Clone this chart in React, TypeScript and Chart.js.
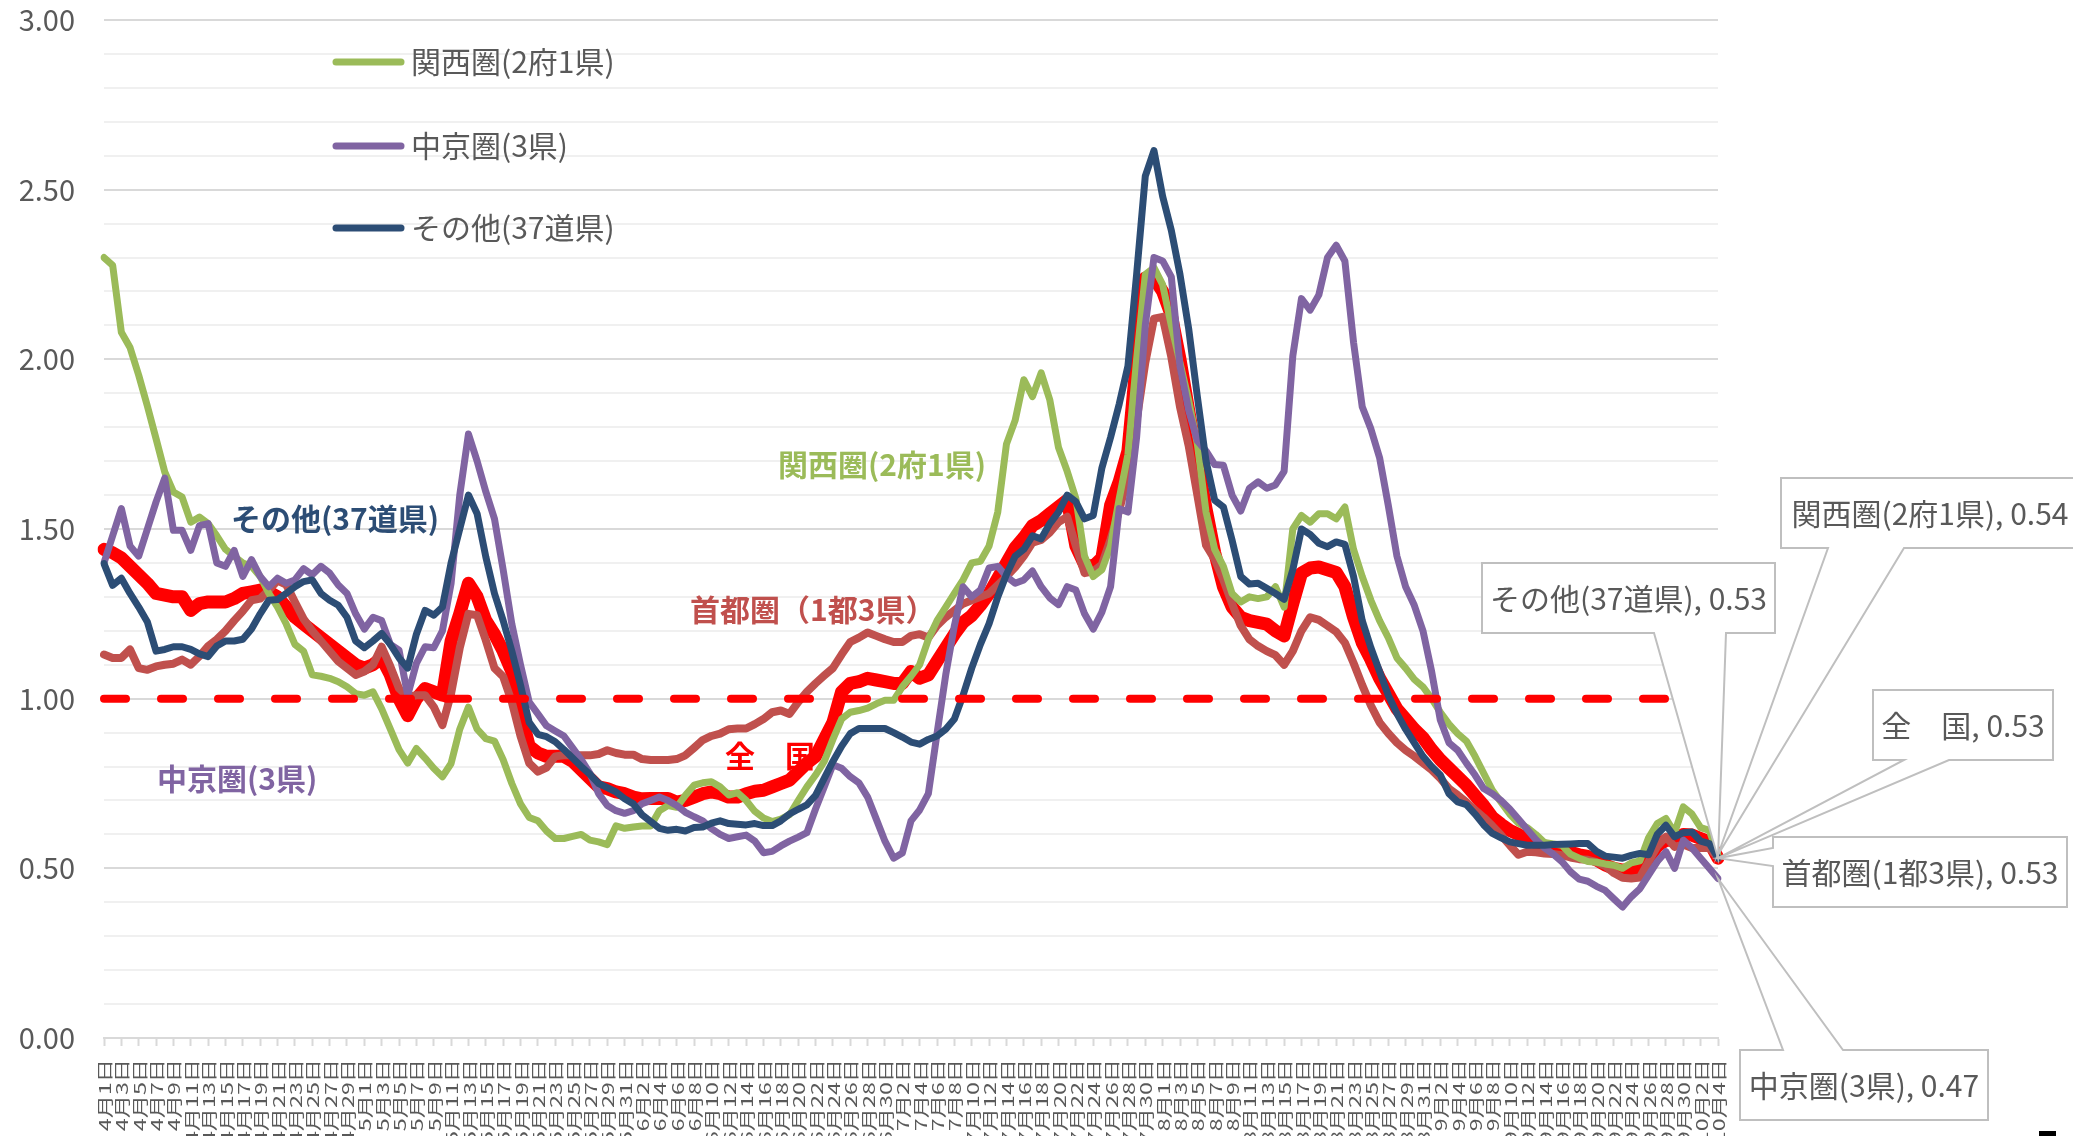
import React, { useEffect, useRef } from 'react';
import { Chart, registerables } from 'chart.js';

Chart.register(...registerables);

const FONT = '"Noto Sans CJK JP", "Noto Sans", sans-serif';

// ---- categories: daily, 4/1 .. 10/4 ----
const MONTHS = [4, 5, 6, 7, 8, 9, 10];
const MONTH_DAYS = [30, 31, 30, 31, 31, 30, 4];
const DATES: string[] = [];
MONTHS.forEach((m, i) => {
  for (let d = 1; d <= MONTH_DAYS[i]; d++) DATES.push(`${m}月${d}日`);
});

// ---- series values ----
const ZENKOKU = [
  1.44, 1.43, 1.415, 1.39, 1.365, 1.34, 1.31, 1.305, 1.30, 1.30, 1.26, 1.28, 1.285, 1.285, 1.285, 1.295, 1.31, 1.315, 1.32, 1.315, 1.30, 1.27, 1.24, 1.22, 1.20, 1.18, 1.16, 1.14, 1.12, 1.10,
  1.09, 1.10, 1.12, 1.07, 1.00, 0.95, 1.00, 1.03, 1.02, 1.01, 1.17, 1.25, 1.34, 1.30, 1.23, 1.19, 1.14, 1.08, 0.96, 0.86, 0.84, 0.83, 0.83, 0.83, 0.815, 0.79, 0.765, 0.74, 0.735, 0.725, 0.72,
  0.71, 0.705, 0.706, 0.706, 0.706, 0.695, 0.70, 0.71, 0.72, 0.725, 0.72, 0.71, 0.71, 0.72, 0.727, 0.73, 0.74, 0.75, 0.76, 0.785, 0.81, 0.83, 0.88, 0.93, 1.02, 1.045, 1.05, 1.06, 1.055, 1.05,
  1.045, 1.045, 1.08, 1.06, 1.07, 1.11, 1.15, 1.19, 1.225, 1.245, 1.275, 1.31, 1.355, 1.40, 1.445, 1.475, 1.51, 1.525, 1.545, 1.565, 1.585, 1.45, 1.395, 1.39, 1.415, 1.57, 1.64, 1.73, 2.00, 2.24, 2.24,
  2.20, 2.13, 2.00, 1.85, 1.70, 1.56, 1.43, 1.33, 1.27, 1.24, 1.23, 1.225, 1.22, 1.20, 1.185, 1.28, 1.37, 1.385, 1.388, 1.38, 1.372, 1.33, 1.24, 1.165, 1.115, 1.06, 1.015, 0.97, 0.94, 0.91, 0.885,
  0.85, 0.82, 0.795, 0.77, 0.745, 0.715, 0.685, 0.65, 0.63, 0.612, 0.60, 0.586, 0.574, 0.566, 0.558, 0.553, 0.547, 0.54, 0.535, 0.525, 0.51, 0.50, 0.495, 0.495, 0.495, 0.53, 0.565, 0.583, 0.583, 0.60,
  0.598, 0.588, 0.578, 0.53,
];

const SHUTOKEN = [
  1.13, 1.12, 1.12, 1.145, 1.09, 1.085, 1.095, 1.10, 1.103, 1.115, 1.10, 1.125, 1.155, 1.175, 1.20, 1.23, 1.258, 1.29, 1.295, 1.32, 1.348, 1.336, 1.285, 1.235, 1.20, 1.17, 1.14, 1.11, 1.09, 1.07,
  1.08, 1.10, 1.153, 1.095, 1.03, 1.005, 1.01, 1.01, 0.976, 0.922, 1.015, 1.15, 1.25, 1.246, 1.172, 1.09, 1.065, 0.99, 0.89, 0.81, 0.785, 0.797, 0.83, 0.833, 0.833, 0.833, 0.833, 0.837, 0.848, 0.84, 0.835,
  0.835, 0.822, 0.819, 0.819, 0.819, 0.822, 0.833, 0.855, 0.878, 0.89, 0.897, 0.91, 0.912, 0.912, 0.925, 0.94, 0.96, 0.965, 0.955, 0.99, 1.02, 1.045, 1.068, 1.09, 1.13, 1.167, 1.18, 1.195, 1.185, 1.175,
  1.167, 1.167, 1.185, 1.19, 1.18, 1.215, 1.24, 1.26, 1.28, 1.29, 1.30, 1.31, 1.335, 1.36, 1.387, 1.42, 1.46, 1.468, 1.49, 1.52, 1.536, 1.45, 1.37, 1.375, 1.395, 1.47, 1.555, 1.66, 1.82, 1.99, 2.12,
  2.125, 2.007, 1.86, 1.745, 1.60, 1.452, 1.41, 1.35, 1.28, 1.215, 1.175, 1.155, 1.14, 1.128, 1.10, 1.14, 1.20, 1.24, 1.232, 1.215, 1.197, 1.165, 1.105, 1.04, 0.98, 0.93, 0.898, 0.87, 0.848, 0.83, 0.81,
  0.79, 0.765, 0.735, 0.716, 0.695, 0.672, 0.65, 0.625, 0.598, 0.568, 0.54, 0.549, 0.547, 0.544, 0.542, 0.539, 0.532, 0.527, 0.525, 0.518, 0.507, 0.486, 0.472, 0.47, 0.473, 0.52, 0.565, 0.593, 0.563, 0.57,
  0.56, 0.56, 0.56, 0.53,
];

const KANSAI = [
  2.30, 2.277, 2.08, 2.035, 1.953, 1.862, 1.766, 1.668, 1.609, 1.594, 1.52, 1.535, 1.516, 1.48, 1.44, 1.42, 1.40, 1.39, 1.36, 1.31, 1.27, 1.22, 1.16, 1.14, 1.07, 1.066, 1.06, 1.05, 1.035, 1.015,
  1.01, 1.02, 0.97, 0.91, 0.85, 0.81, 0.853, 0.825, 0.795, 0.77, 0.809, 0.91, 0.975, 0.91, 0.882, 0.875, 0.82, 0.75, 0.69, 0.65, 0.64, 0.61, 0.588, 0.588, 0.594, 0.60, 0.583, 0.578, 0.57, 0.625, 0.618,
  0.622, 0.625, 0.625, 0.67, 0.685, 0.68, 0.715, 0.745, 0.752, 0.755, 0.74, 0.716, 0.723, 0.70, 0.668, 0.648, 0.638, 0.645, 0.658, 0.70, 0.74, 0.775, 0.815, 0.88, 0.94, 0.96, 0.965, 0.972, 0.985, 0.995,
  0.995, 1.035, 1.066, 1.10, 1.175, 1.23, 1.27, 1.31, 1.35, 1.40, 1.405, 1.45, 1.55, 1.75, 1.82, 1.94, 1.89, 1.96, 1.88, 1.74, 1.67, 1.59, 1.42, 1.36, 1.38, 1.45, 1.59, 1.72, 2.00, 2.25, 2.27,
  2.22, 2.10, 1.99, 1.88, 1.75, 1.55, 1.44, 1.39, 1.31, 1.285, 1.30, 1.295, 1.30, 1.33, 1.27, 1.50, 1.54, 1.52, 1.545, 1.545, 1.53, 1.565, 1.44, 1.36, 1.29, 1.23, 1.18, 1.12, 1.09, 1.057, 1.035,
  1.00, 0.96, 0.925, 0.897, 0.875, 0.83, 0.78, 0.73, 0.695, 0.66, 0.633, 0.62, 0.60, 0.576, 0.572, 0.568, 0.542, 0.53, 0.52, 0.518, 0.513, 0.509, 0.50, 0.516, 0.522, 0.59, 0.632, 0.647, 0.605, 0.681,
  0.66, 0.62, 0.612, 0.54,
];

const CHUKYO = [
  1.40, 1.48, 1.56, 1.45, 1.42, 1.50, 1.58, 1.65, 1.496, 1.496, 1.437, 1.51, 1.516, 1.40, 1.39, 1.437, 1.36, 1.41, 1.36, 1.33, 1.355, 1.34, 1.35, 1.383, 1.365, 1.39, 1.37, 1.335, 1.31, 1.25,
  1.205, 1.24, 1.23, 1.16, 1.143, 1.01, 1.104, 1.153, 1.15, 1.20, 1.34, 1.60, 1.78, 1.70, 1.61, 1.53, 1.38, 1.22, 1.10, 0.99, 0.955, 0.92, 0.905, 0.89, 0.855, 0.82, 0.78, 0.72, 0.685, 0.67, 0.662,
  0.67, 0.69, 0.70, 0.71, 0.70, 0.685, 0.665, 0.652, 0.64, 0.617, 0.60, 0.588, 0.593, 0.598, 0.58, 0.546, 0.55, 0.566, 0.58, 0.592, 0.605, 0.675, 0.74, 0.805, 0.795, 0.77, 0.752, 0.71, 0.645, 0.58,
  0.53, 0.545, 0.64, 0.672, 0.72, 0.897, 1.07, 1.215, 1.33, 1.30, 1.32, 1.385, 1.39, 1.36, 1.34, 1.35, 1.376, 1.33, 1.297, 1.277, 1.33, 1.32, 1.25, 1.205, 1.255, 1.33, 1.56, 1.55, 1.77, 2.10, 2.30,
  2.29, 2.243, 1.98, 1.85, 1.76, 1.73, 1.69, 1.688, 1.60, 1.553, 1.62, 1.639, 1.62, 1.63, 1.67, 2.01, 2.179, 2.145, 2.19, 2.30, 2.336, 2.29, 2.05, 1.86, 1.795, 1.71, 1.57, 1.42, 1.33, 1.275, 1.20,
  1.08, 0.937, 0.87, 0.848, 0.81, 0.775, 0.735, 0.72, 0.70, 0.675, 0.645, 0.615, 0.585, 0.56, 0.542, 0.52, 0.49, 0.468, 0.462, 0.447, 0.435, 0.41, 0.386, 0.416, 0.44, 0.48, 0.52, 0.549, 0.50, 0.583,
  0.56, 0.53, 0.50, 0.47,
];

const SONOTA = [
  1.398, 1.334, 1.355, 1.31, 1.27, 1.226, 1.14, 1.145, 1.153, 1.153, 1.145, 1.132, 1.124, 1.155, 1.17, 1.17, 1.175, 1.205, 1.25, 1.29, 1.292, 1.31, 1.33, 1.345, 1.35, 1.31, 1.29, 1.275, 1.24, 1.17,
  1.15, 1.17, 1.192, 1.16, 1.12, 1.09, 1.19, 1.26, 1.246, 1.27, 1.40, 1.50, 1.60, 1.545, 1.418, 1.31, 1.23, 1.14, 1.04, 0.93, 0.895, 0.888, 0.873, 0.85, 0.825, 0.80, 0.777, 0.75, 0.738, 0.725, 0.705,
  0.69, 0.658, 0.638, 0.618, 0.612, 0.615, 0.61, 0.62, 0.622, 0.633, 0.64, 0.632, 0.63, 0.628, 0.632, 0.626, 0.626, 0.64, 0.66, 0.674, 0.687, 0.715, 0.765, 0.815, 0.86, 0.897, 0.912, 0.912, 0.912, 0.912,
  0.90, 0.887, 0.872, 0.866, 0.88, 0.89, 0.91, 0.94, 1.01, 1.09, 1.16, 1.221, 1.30, 1.366, 1.42, 1.44, 1.48, 1.471, 1.516, 1.55, 1.60, 1.58, 1.53, 1.54, 1.68, 1.77, 1.869, 1.98, 2.25, 2.54, 2.615,
  2.48, 2.38, 2.25, 2.09, 1.89, 1.70, 1.585, 1.565, 1.467, 1.36, 1.338, 1.34, 1.325, 1.31, 1.293, 1.38, 1.50, 1.484, 1.458, 1.448, 1.462, 1.455, 1.36, 1.23, 1.15, 1.08, 1.01, 0.956, 0.91, 0.87, 0.83,
  0.80, 0.775, 0.72, 0.696, 0.688, 0.66, 0.628, 0.603, 0.59, 0.578, 0.573, 0.568, 0.568, 0.568, 0.57, 0.571, 0.572, 0.573, 0.573, 0.55, 0.536, 0.533, 0.53, 0.538, 0.544, 0.54, 0.60, 0.627, 0.593, 0.605,
  0.607, 0.58, 0.573, 0.53,
];

const REFERENCE_LEVEL = 1.0;

// ---- y tick labels ----
const Y_MIN = 0;
const Y_MAX = 3;
const Y_STEP = 0.1;
const Y_LABEL_STEP = 0.5;

// ---- series names ----
const NAMES = {
  kansai: '関西圏(2府1県)',
  chukyo: '中京圏(3県)',
  sonota: 'その他(37道県)',
  zenkoku: '全　国',
  shutoken: '首都圏(1都3県)',
};

const COLORS = {
  kansai: '#9BBB59',
  chukyo: '#8064A2',
  sonota: '#2C4D75',
  zenkoku: '#FF0000',
  shutoken: '#C0504D',
  text: '#595959',
};

function isMajor(v: number) {
  const r = v / Y_LABEL_STEP;
  return Math.abs(r - Math.round(r)) < 1e-6;
}

// layout of overlay items (positions only)
const LEGEND = [
  { key: 'kansai', y: 62 },
  { key: 'chukyo', y: 146 },
  { key: 'sonota', y: 228 },
];

const INLINE = [
  { text: 'その他(37道県)', x: 231, y: 519, color: COLORS.sonota },
  { text: '中京圏(3県)', x: 157, y: 779, color: COLORS.chukyo },
  { text: '関西圏(2府1県)', x: 778, y: 465, color: COLORS.kansai },
  { text: '首都圏（1都3県）', x: 690, y: 610, color: COLORS.shutoken },
  { text: '全　国', x: 725, y: 756, color: COLORS.zenkoku },
];

// callouts: box [x0,y0,x1,y1], wedge side and base points
const CALLOUTS = [
  { key: 'shutoken', ds: 4, box: [1773, 837, 2067, 907], side: 'left', base: [848, 866] },
  { key: 'chukyo', ds: 2, box: [1740, 1050, 1988, 1120], side: 'top', base: [1783, 1843] },
  { key: 'zenkoku', ds: 5, box: [1873, 690, 2053, 760], side: 'bottom', base: [1904, 1949] },
  { key: 'sonota', ds: 1, box: [1482, 563, 1775, 633], side: 'bottom', base: [1654, 1726] },
  { key: 'kansai', ds: 3, box: [1781, 478, 2079, 548], side: 'bottom', base: [1828, 1904] },
];

const X_LABEL_FONT = 16;
const X_LABEL_STRETCH = 1.45;

const overlayPlugin = {
  id: 'overlay',
  beforeDatasetsDraw(chart: any) {
    const ctx = chart.ctx;
    ctx.save();
    ctx.font = `bold 30px ${FONT}`;
    ctx.textBaseline = 'middle';
    ctx.textAlign = 'left';
    INLINE.forEach((t) => {
      ctx.fillStyle = t.color;
      ctx.fillText(t.text, t.x, t.y);
    });
    // legend
    LEGEND.forEach((l) => {
      ctx.strokeStyle = (COLORS as any)[l.key];
      ctx.lineWidth = 7;
      ctx.lineCap = 'round';
      ctx.beginPath();
      ctx.moveTo(336, l.y);
      ctx.lineTo(401, l.y);
      ctx.stroke();
      ctx.fillStyle = COLORS.text;
      ctx.font = `30px ${FONT}`;
      ctx.fillText((NAMES as any)[l.key], 411, l.y);
    });
    ctx.restore();
  },
  afterDatasetsDraw(chart: any) {
    const ctx = chart.ctx;
    const xs = chart.scales.x;
    const ys = chart.scales.y;
    ctx.save();
    CALLOUTS.forEach((c) => {
      const data = chart.data.datasets[c.ds].data as number[];
      const last = data.length - 1;
      const tx = xs.getPixelForValue(last);
      const ty = ys.getPixelForValue(data[last]);
      const [x0, y0, x1, y1] = c.box;
      ctx.beginPath();
      if (c.side === 'bottom') {
        ctx.moveTo(x0, y0);
        ctx.lineTo(x1, y0);
        ctx.lineTo(x1, y1);
        ctx.lineTo(c.base[1], y1);
        ctx.lineTo(tx, ty);
        ctx.lineTo(c.base[0], y1);
        ctx.lineTo(x0, y1);
      } else if (c.side === 'top') {
        ctx.moveTo(x0, y0);
        ctx.lineTo(c.base[0], y0);
        ctx.lineTo(tx, ty);
        ctx.lineTo(c.base[1], y0);
        ctx.lineTo(x1, y0);
        ctx.lineTo(x1, y1);
        ctx.lineTo(x0, y1);
      } else {
        ctx.moveTo(x0, y0);
        ctx.lineTo(x1, y0);
        ctx.lineTo(x1, y1);
        ctx.lineTo(x0, y1);
        ctx.lineTo(x0, c.base[1]);
        ctx.lineTo(tx, ty);
        ctx.lineTo(x0, c.base[0]);
      }
      ctx.closePath();
      ctx.fillStyle = '#FFFFFF';
      ctx.fill();
      ctx.strokeStyle = '#BFBFBF';
      ctx.lineWidth = 2;
      ctx.lineJoin = 'miter';
      ctx.stroke();
      ctx.font = `30px ${FONT}`;
      ctx.fillStyle = COLORS.text;
      ctx.textBaseline = 'middle';
      ctx.textAlign = 'center';
      const label = `${(NAMES as any)[c.key]}, ${data[last].toFixed(2)}`;
      ctx.fillText(label, (x0 + x1) / 2, (y0 + y1) / 2 + 1);
    });
    ctx.fillStyle = '#000000';
    ctx.fillRect(2039, 1131, 17, 5);
    ctx.restore();
  },
  afterDraw(chart: any) {
    // rotated category labels (every other day), slightly stretched along the text
    const ctx = chart.ctx;
    const xs = chart.scales.x;
    const top = chart.chartArea.bottom + 21;
    ctx.save();
    ctx.font = `${X_LABEL_FONT}px ${FONT}`;
    ctx.fillStyle = COLORS.text;
    ctx.textAlign = 'right';
    ctx.textBaseline = 'middle';
    DATES.forEach((d, i) => {
      if (i % 2 !== 0) return;
      const x = xs.getPixelForValue(i);
      ctx.save();
      ctx.translate(x + 1, top);
      ctx.rotate(-Math.PI / 2);
      ctx.scale(X_LABEL_STRETCH, 1);
      ctx.fillText(d, 0, 0);
      ctx.restore();
    });
    ctx.restore();
  },
};

function line(label: string, data: number[], color: string, width: number, extra: any = {}) {
  return {
    label,
    data,
    borderColor: color,
    backgroundColor: color,
    borderWidth: width,
    pointRadius: 0,
    pointHoverRadius: 0,
    tension: 0,
    fill: false,
    borderJoinStyle: 'round',
    borderCapStyle: 'round',
    ...extra,
  };
}

export default function App() {
  const ref = useRef<HTMLCanvasElement>(null);
  useEffect(() => {
    const canvas = ref.current;
    if (!canvas) return;
    const refLine = DATES.map(() => REFERENCE_LEVEL);
    const chart = new Chart(canvas, {
      type: 'line',
      data: {
        labels: DATES,
        datasets: [
          line('基準', refLine, '#FF0000', 8, { borderDash: [22, 35], borderCapStyle: 'round' }),
          line(NAMES.sonota, SONOTA, COLORS.sonota, 7),
          line(NAMES.chukyo, CHUKYO, COLORS.chukyo, 7),
          line(NAMES.kansai, KANSAI, COLORS.kansai, 7),
          line(NAMES.shutoken, SHUTOKEN, COLORS.shutoken, 8),
          line(NAMES.zenkoku, ZENKOKU, COLORS.zenkoku, 13),
        ] as any,
      },
      options: {
        responsive: false,
        animation: false,
        devicePixelRatio: 1,
        layout: { padding: { top: 20, right: 355, left: 0, bottom: 0 } },
        plugins: { legend: { display: false }, tooltip: { enabled: false } },
        events: [],
        scales: {
          x: {
            type: 'category',
            offset: false,
            grid: {
              drawOnChartArea: false,
              drawTicks: true,
              tickLength: 8,
              tickWidth: 2,
              tickColor: (c: any) => (c.index % 2 === 0 ? '#D9D9D9' : 'rgba(0,0,0,0)'),
            },
            border: { display: true, color: '#D9D9D9', width: 2 },
            ticks: {
              display: false,
              autoSkip: false,
            },
            afterFit: (s: any) => {
              s.height = 98;
            },
          },
          y: {
            min: Y_MIN,
            max: Y_MAX,
            border: { display: false },
            grid: {
              drawTicks: false,
              lineWidth: 2,
              color: (c: any) => (isMajor(c.tick.value) ? '#D9D9D9' : '#F0F0F0'),
            },
            ticks: {
              stepSize: Y_STEP,
              autoSkip: false,
              padding: 29,
              color: COLORS.text,
              font: { family: FONT, size: 29 },
              callback: (v: any) => (isMajor(Number(v)) ? Number(v).toFixed(2) : ''),
            },
            afterFit: (s: any) => {
              s.width = 104;
              s.paddingTop = 0;
              s.paddingBottom = 0;
            },
          },
        },
      } as any,
      plugins: [overlayPlugin],
    });
    return () => chart.destroy();
  }, []);
  return (
    <div style={{ position: 'fixed', left: 0, top: 0, width: 2073, height: 1136, background: '#fff', overflow: 'hidden' }}>
      <canvas ref={ref} width={2073} height={1136} style={{ display: 'block', width: 2073, height: 1136 }} />
    </div>
  );
}
